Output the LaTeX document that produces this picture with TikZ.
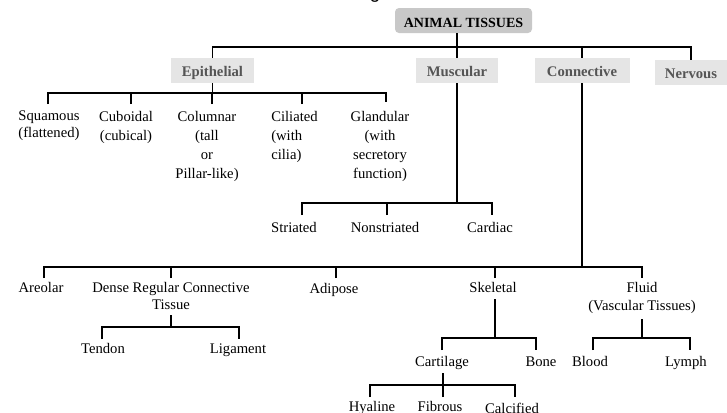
\documentclass[tikz,border=0pt]{standalone}
\usepackage{fontspec}
\setmainfont{Liberation Serif}
\newfontfamily\arialf{Liberation Sans}
\definecolor{rootgray}{RGB}{200,200,200}
\definecolor{catgray}{RGB}{229,229,229}
\definecolor{cattext}{RGB}{85,85,85}
\newcommand\lstrut{\rule{0pt}{8pt}}
\tikzset{
  lbl/.style={anchor=north, inner sep=0pt, align=center, yshift=8pt,
    font=\fontsize{11}{14.25}\selectfont},
  tight/.style={font=\fontsize{11}{12.75}\selectfont},
  rootbox/.style={fill=rootgray, rounded corners=3pt, inner sep=0pt,
    minimum width=102.75pt, minimum height=18.75pt,
    text height=10.5pt, text depth=0.75pt,
    font=\fontsize{10.5}{12}\selectfont\bfseries},
  catbox/.style={fill=catgray, inner sep=0pt, minimum height=18.75pt,
    text height=9pt, text depth=0.75pt, text=cattext,
    font=\fontsize{11}{13}\selectfont\bfseries},
  conn/.style={draw=black, line width=0.9pt}
}
\begin{document}
\begin{tikzpicture}[x=0.75pt, y=-0.75pt]
\useasboundingbox (0,0) rectangle (727,412);
\fill[white] (0,0) rectangle (727,412);
% cropped fragment of a title above
\node[font=\arialf\fontsize{14}{16}\selectfont, anchor=base, inner sep=0pt] (gfrag) at (375,-1.5) {g};
% top level
\node[rootbox] (root) at (463.5,20.5) {ANIMAL TISSUES};
\node[catbox, minimum width=62.25pt] (epi) at (212.5,70.5) {Epithelial};
\node[catbox, minimum width=61.5pt] (musc) at (457,70.5) {Muscular};
\node[catbox, minimum width=71.25pt] (conn) at (582,70.5) {Connective};
\node[catbox, minimum width=54pt] (nerv) at (691,72.5) {Nervous};
\coordinate (jT) at (0,47);
\draw[conn] (root.south -| musc.north) -- (musc.north);
\draw[conn] (epi.north) -- (epi.north |- jT) -| (nerv.north);
\draw[conn] (conn.north) -- (conn.north |- jT);
% epithelial children
\node[lbl, tight, align=left] (squ) at (49,120) {\lstrut Squamous\\(flattened)};
\node[lbl] (cub) at (126,121) {\lstrut Cuboidal\\(cubical)};
\node[lbl] (col) at (207,121) {\lstrut Columnar\\(tall\\or\\Pillar-like)};
\node[lbl, anchor=north west, align=left] (cil) at (271,121) {\lstrut Ciliated\\(with\\cilia)};
\node[lbl] (gla) at (380,121) {\lstrut Glandular\\(with\\secretory\\function)};
\coordinate (eB) at (0,93);
\coordinate (squT) at (48,104);
\coordinate (cubT) at (131,104);
\coordinate (colT) at (212,104);
\coordinate (cilT) at (302,104);
\coordinate (glaT) at (386,102);
\draw[conn] (epi.south) -- (epi.south |- eB);
\draw[conn] (squT) |- (eB -| glaT) -- (glaT);
\draw[conn] (cubT) -- (cubT |- eB);
\draw[conn] (colT) -- (colT |- eB);
\draw[conn] (cilT) -- (cilT |- eB);
% muscular children
\node[lbl] (str) at (294,232) {\lstrut Striated};
\node[lbl] (nst) at (385,232) {\lstrut Nonstriated};
\node[lbl] (car) at (490,232) {\lstrut Cardiac};
\coordinate (mB) at (0,203);
\coordinate (strT) at (302,215);
\coordinate (nstT) at (387,215);
\coordinate (carT) at (492,215);
\draw[conn] (musc.south) -- (musc.south |- mB);
\draw[conn] (strT) |- (mB -| carT) -- (carT);
\draw[conn] (nstT) -- (nstT |- mB);
% connective children
\node[lbl] (are) at (41,292) {\lstrut Areolar};
\node[lbl, tight] (den) at (171,292) {\lstrut Dense Regular Connective\\Tissue};
\node[lbl] (adi) at (334,293) {\lstrut Adipose};
\node[lbl] (ske) at (493,292) {\lstrut Skeletal};
\node[lbl, font=\fontsize{11}{13.5}\selectfont] (flu) at (642,292) {\lstrut Fluid\\(Vascular Tissues)};
\coordinate (cB) at (0,267);
\coordinate (areT) at (44,278);
\coordinate (denT) at (171,278);
\coordinate (adiT) at (336,278);
\coordinate (skeT) at (495,278);
\coordinate (fluT) at (642,278);
\draw[conn] (conn.south) -- (conn.south |- cB);
\draw[conn] (areT) |- (cB -| fluT) -- (fluT);
\draw[conn] (denT) -- (denT |- cB);
\draw[conn] (adiT) -- (adiT |- cB);
\draw[conn] (skeT) -- (skeT |- cB);
% dense regular children
\node[lbl] (ten) at (103,353) {\lstrut Tendon};
\node[lbl] (lig) at (238,353) {\lstrut Ligament};
\coordinate (dS) at (171,315);
\coordinate (dB) at (0,327);
\coordinate (tenT) at (102,339);
\coordinate (ligT) at (239,339);
\draw[conn] (dS) -- (dS |- dB);
\draw[conn] (tenT) |- (dB -| ligT) -- (ligT);
% skeletal children
\node[lbl] (cart) at (442,366) {\lstrut Cartilage};
\node[lbl] (bon) at (541,366) {\lstrut Bone};
\coordinate (sS) at (495,299);
\coordinate (sB) at (0,338);
\coordinate (cartT) at (442,350);
\coordinate (bonT) at (536,350);
\draw[conn] (sS) -- (sS |- sB);
\draw[conn] (cartT) |- (sB -| bonT) -- (bonT);
% fluid children
\node[lbl] (blo) at (590,366) {\lstrut Blood};
\node[lbl] (lym) at (686,366) {\lstrut Lymph};
\coordinate (fS) at (642,319);
\coordinate (bloT) at (593,350);
\coordinate (lymT) at (690,350);
\draw[conn] (fS) -- (fS |- sB);
\draw[conn] (bloT) |- (sB -| lymT) -- (lymT);
% cartilage children
\node[lbl] (hya) at (372,411) {\lstrut Hyaline};
\node[lbl] (fib) at (440,411) {\lstrut Fibrous};
\node[lbl] (cal) at (512,413) {\lstrut Calcified};
\coordinate (caS) at (443,373);
\coordinate (caB) at (0,385);
\coordinate (hyaT) at (370,397);
\coordinate (fibT) at (443,397);
\coordinate (calT) at (515,397);
\draw[conn] (caS) -- (caS |- caB);
\draw[conn] (hyaT) |- (caB -| calT) -- (calT);
\draw[conn] (fibT) -- (fibT |- caB);
\end{tikzpicture}
\end{document}
